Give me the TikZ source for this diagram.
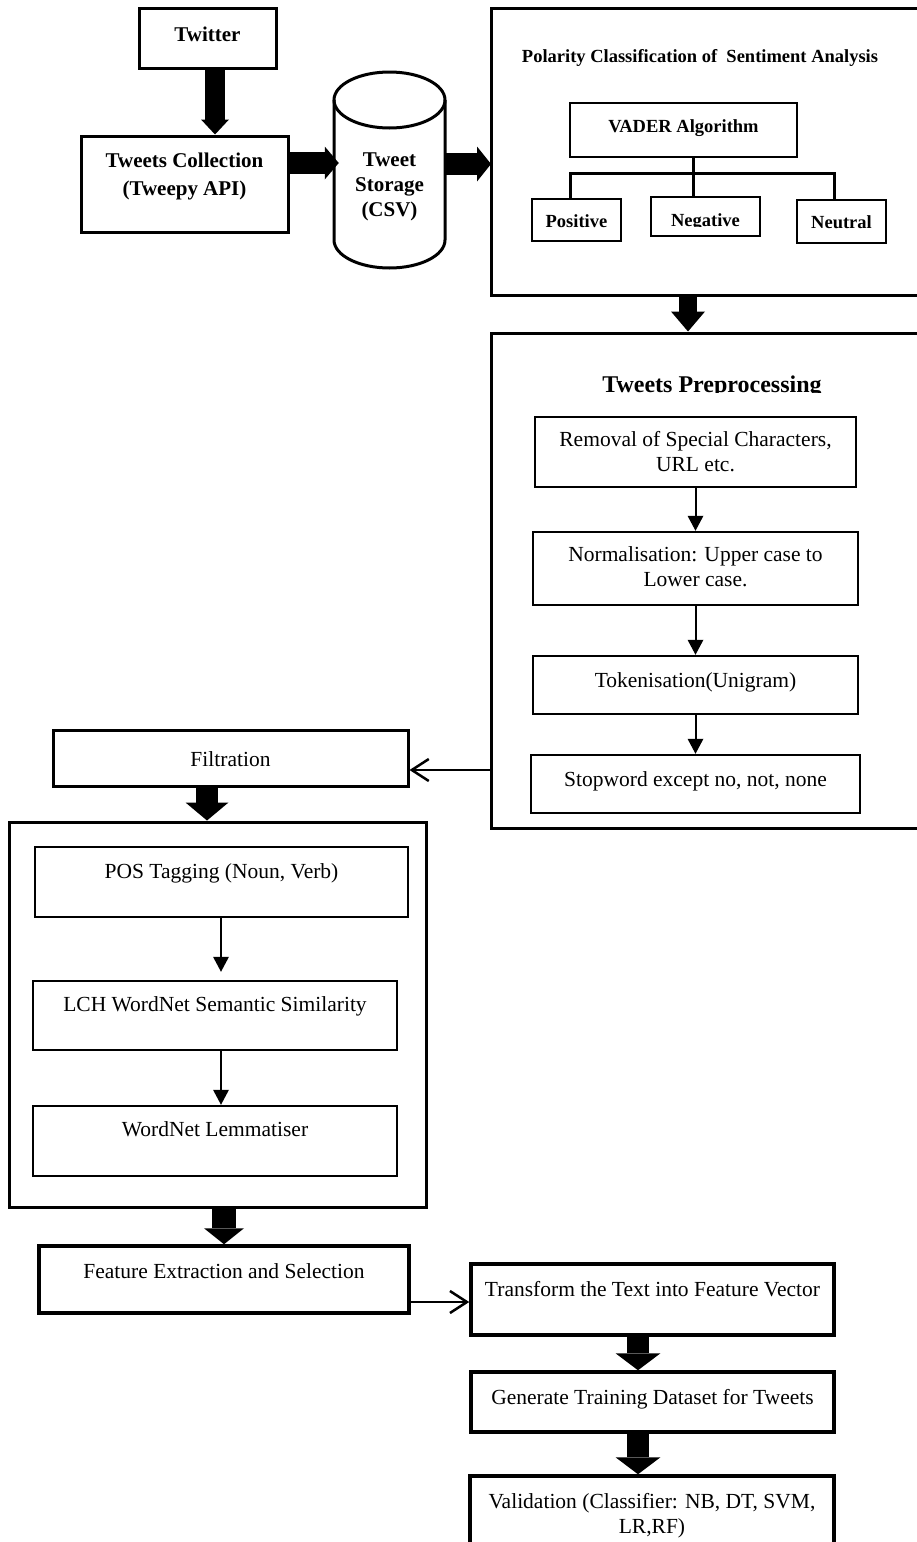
\documentclass[tikz,border=0pt]{standalone}
\usepackage{fontspec}
\setmainfont{Liberation Serif}
\usetikzlibrary{arrows.meta}
\newcommand{\mytl}[1]{\begin{tabular}[t]{@{}c@{}}#1\end{tabular}}
\begin{document}
\begin{tikzpicture}[x=1pt,y=-1pt,
  box/.style={draw, line width=2.5pt, inner sep=0pt, align=center, font=\fontsize{21.5}{25}\selectfont},
  bbox/.style={box, font=\bfseries\fontsize{21}{28}\selectfont},
  sbox/.style={box, font=\bfseries\fontsize{18.5}{22}\selectfont},
  tb/.style={text height=20pt, text depth=#1},
  wh/.style 2 args={minimum width=#1, minimum height=#2},
  tarrow/.style={line width=2pt, -{Triangle[width=16pt,length=15pt,line width=0pt]}},
  oarrow/.style={line width=2.5pt, -{Straight Barb[width=22pt,length=17pt]}},
  farrow/.style n args={3}{line width=#1, -{Triangle[width=#2,length=#3,line width=0pt]}}
]
\useasboundingbox (0,0) rectangle (916,1542);

% ---------- top row ----------
\node[bbox, line width=3pt, wh={137pt}{60pt}, tb=14pt] (twitter) at (207.5,38) {Twitter};
\node[bbox, line width=3pt, wh={207pt}{96pt}, tb=54pt] (coll) at (184.5,184) {\mytl{Tweets Collection\\(Tweepy API)}};
\node[bbox, draw=none, wh={111pt}{196pt}, tb=28pt, font=\bfseries\fontsize{21}{25}\selectfont] (store) at (389.5,170) {\mytl{Tweet\\Storage\\(CSV)}};
\draw[line width=3pt] (389.5,100) ellipse [x radius=55.5pt, y radius=28pt];
\draw[line width=3pt] (334,100) -- (334,240) arc[start angle=180, end angle=360, x radius=55.5pt, y radius=28pt] -- (445,100);

\coordinate (a1) at (215,0);
\draw[farrow={20pt}{28pt}{15pt}] (twitter.south -| a1) -- (coll.north -| a1);
\coordinate (a2) at (0,163);
\draw[farrow={22pt}{33pt}{14pt}] (coll.east |- a2) -- ([xshift=6pt]store.west |- a2);
\coordinate (a3) at (0,164);
\draw[farrow={22pt}{35pt}{14pt}] (store.east |- a3) -- (491,164);

% ---------- polarity ----------
\node[box, line width=3pt, wh={439pt}{287pt}] (polar) at (710.5,151.5) {};
\node[font=\bfseries\fontsize{18.5}{22}\selectfont, anchor=base, inner sep=0pt] (ptitle) at (700,62) {Polarity Classification of\ \ Sentiment Analysis};
\node[sbox, wh={227pt}{54pt}, tb=16pt] (vader) at (683.5,130) {VADER Algorithm};
\node[sbox, wh={89pt}{42pt}, tb=6pt] (pos) at (576.5,220) {Positive};
\node[sbox, wh={109pt}{39pt}] (neg) at (705.5,216.5) {};
\begin{scope}
  \clip (640,190) rectangle (770,226);
  \node[font=\bfseries\fontsize{18.5}{22}\selectfont, anchor=base, inner sep=0pt] (negtxt) at (705.5,226) {Negative};
\end{scope}
\node[sbox, wh={89pt}{43pt}, tb=7pt] (neu) at (841.5,221.5) {Neutral};
\coordinate (vx) at (693,173);
\coordinate (tl) at (570,173);
\coordinate (tr) at (834,173);
\draw[line width=3pt] (vader.south -| vx) -- (neg.north -| vx);
\draw[line width=3pt] (pos.north -| tl) -- (tl) -- (tr) -- (neu.north -| tr);

% ---------- preprocessing ----------
\node[box, line width=3pt, wh={439pt}{495pt}] (prep) at (710.5,580.5) {};
\coordinate (a4) at (688,0);
\draw[farrow={18pt}{34pt}{20pt}] (polar.south -| a4) -- (prep.north -| a4);
\begin{scope}
  \clip (495,360) rectangle (916,392);
  \node[font=\bfseries\fontsize{24}{28}\selectfont, anchor=base, inner sep=0pt] (prtitle) at (712,392) {Tweets Preprocessing};
\end{scope}
\node[box, wh={321pt}{70pt}, tb=32pt] (rem) at (695.5,452) {\mytl{Removal of Special Characters,\\URL etc.}};
\node[box, wh={325pt}{73pt}, tb=35pt] (norm) at (695.5,568.5) {\mytl{Normalisation: Upper case to\\Lower case.}};
\node[box, wh={325pt}{58pt}, tb=16pt] (tok) at (695.5,685) {Tokenisation(Unigram)};
\node[box, wh={329pt}{58pt}, tb=16pt] (stop) at (695.5,784) {Stopword except no, not, none};
\draw[tarrow] (rem) -- (norm);
\draw[tarrow] (norm) -- (tok);
\draw[tarrow] (tok) -- (stop);

% ---------- filtration ----------
\node[box, line width=3pt, wh={355pt}{56pt}, tb=4pt] (filt) at (230.5,758) {Filtration};
\coordinate (fy) at (0,770);
\draw[oarrow] (prep.west |- fy) -- (filt.east |- fy);
\node[box, line width=3pt, wh={417pt}{385pt}] (big) at (217.5,1014.5) {};
\coordinate (a5) at (207,0);
\draw[farrow={22pt}{43pt}{18pt}] (filt.south -| a5) -- (big.north -| a5);
\node[box, wh={373pt}{70pt}, tb=28pt] (postag) at (221.5,882) {POS Tagging (Noun, Verb)};
\node[box, wh={364pt}{69pt}, tb=29pt] (lch) at (215,1015.5) {LCH WordNet Semantic Similarity};
\node[box, wh={364pt}{70pt}, tb=30pt] (lem) at (215,1141) {WordNet Lemmatiser};
\coordinate (bx) at (221,0);
\draw[tarrow] (postag.south -| bx) -- ([yshift=8pt]lch.north -| bx);
\draw[tarrow] (lch.south -| bx) -- (lem.north -| bx);

% ---------- bottom ----------
\node[box, line width=3.5pt, wh={370pt}{67pt}, tb=23pt] (feat) at (224,1279.5) {Feature Extraction and Selection};
\coordinate (a6) at (224,0);
\draw[farrow={24pt}{40pt}{16pt}] (big.south -| a6) -- (feat.north -| a6);
\node[box, line width=3.5pt, wh={363pt}{71pt}, tb=27pt] (trans) at (652.5,1299.5) {Transform the Text into Feature Vector};
\coordinate (ty) at (0,1302);
\draw[oarrow] (feat.east |- ty) -- (trans.west |- ty);
\node[box, line width=3.5pt, wh={363pt}{60pt}, tb=16pt] (gen) at (652.5,1402) {Generate Training Dataset for Tweets};
\node[box, line width=3.5pt, wh={364pt}{104pt}, tb=60pt] (val) at (652,1528) {\mytl{Validation (Classifier: NB, DT, SVM,\\LR,RF)}};
\coordinate (a7) at (638,0);
\draw[farrow={22pt}{45pt}{17pt}] (trans.south -| a7) -- (gen.north -| a7);
\draw[farrow={22pt}{45pt}{17pt}] (gen.south -| a7) -- (val.north -| a7);
\end{tikzpicture}
\end{document}
